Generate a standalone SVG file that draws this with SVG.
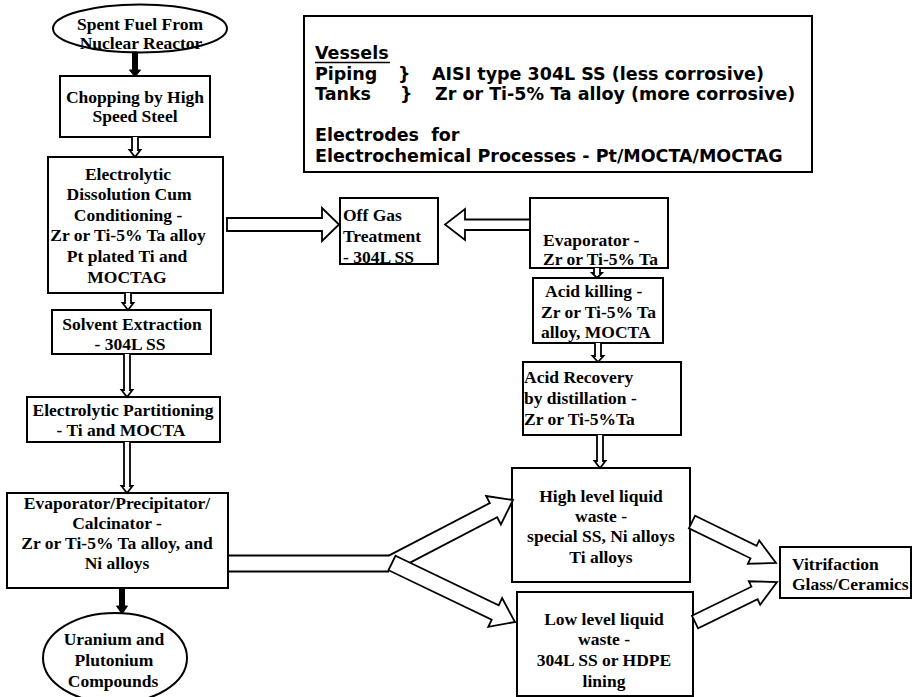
<svg xmlns="http://www.w3.org/2000/svg" width="912" height="697" viewBox="0 0 912 697">
<style>
.box{fill:#fff;stroke:#000;stroke-width:2}
.t{font-family:"Liberation Serif","Times New Roman",serif;font-weight:bold;font-size:17.5px;fill:#000}
.c{text-anchor:middle}
.s{font-family:"DejaVu Sans",Verdana,sans-serif;font-weight:bold;font-size:17.5px;fill:#000}
.ar{fill:#fff;stroke:#000;stroke-width:1.8;stroke-linejoin:miter}
.ln{fill:none;stroke:#000;stroke-width:1.8}
.blk{fill:#000;stroke:#000;stroke-width:1}
</style>
<rect width="912" height="697" fill="#fff"/>
<g id="spent-fuel">
<ellipse class="box" cx="140" cy="28.5" rx="87" ry="24"/>
<text class="t c" x="140" y="30">Spent Fuel From</text>
<text class="t c" x="141" y="49">Nuclear Reactor</text>
</g>
<g id="chopping">
<rect class="box" x="60" y="76" width="150" height="61"/>
<text class="t c" x="135" y="103">Chopping by High</text>
<text class="t c" x="135" y="122">Speed Steel</text>
</g>
<g id="electrolytic-dissolution">
<rect class="box" x="48" y="157" width="175" height="136"/>
<text class="t c" x="128" y="180">Electrolytic</text>
<text class="t c" x="129" y="200">Dissolution Cum</text>
<text class="t c" x="128" y="221">Conditioning -</text>
<text class="t c" x="128" y="241">Zr or Ti-5% Ta alloy</text>
<text class="t c" x="127" y="262">Pt plated Ti and</text>
<text class="t c" x="127" y="283">MOCTAG</text>
</g>
<g id="solvent-extraction">
<rect class="box" x="52" y="310" width="159" height="44"/>
<text class="t c" x="132" y="330">Solvent Extraction</text>
<text class="t c" x="130" y="350">- 304L SS</text>
</g>
<g id="electrolytic-partitioning">
<rect class="box" x="27" y="397" width="193" height="45"/>
<text class="t c" x="123" y="416">Electrolytic Partitioning</text>
<text class="t c" x="121" y="436">- Ti and MOCTA</text>
</g>
<g id="evaporator-calcinator">
<rect class="box" x="7" y="493" width="221" height="95"/>
<text class="t c" x="117" y="509">Evaporator/Precipitator/</text>
<text class="t c" x="117" y="529">Calcinator -</text>
<text class="t c" x="117" y="549">Zr or Ti-5% Ta alloy, and</text>
<text class="t c" x="117" y="569">Ni alloys</text>
</g>
<g id="uranium-plutonium">
<ellipse class="box" cx="115" cy="658" rx="72" ry="45"/>
<text class="t c" x="114" y="645">Uranium and</text>
<text class="t c" x="114" y="666">Plutonium</text>
<text class="t c" x="113" y="687">Compounds</text>
</g>
<g id="vessels-legend">
<rect class="box" x="304" y="16" width="508" height="156"/>
<text class="s" x="315" y="59">Vessels</text>
<line x1="315" y1="62.5" x2="390" y2="62.5" stroke="#000" stroke-width="1.6"/>
<text class="s" x="315" y="80">Piping</text>
<text class="s" x="398" y="80">}</text>
<text class="s" x="432" y="80">AISI type 304L SS (less corrosive)</text>
<text class="s" x="315" y="100">Tanks</text>
<text class="s" x="400" y="100">}</text>
<text class="s" x="435" y="100">Zr or Ti-5% Ta alloy (more corrosive)</text>
<text class="s" x="315" y="141" xml:space="preserve">Electrodes  for</text>
<text class="s" x="315" y="162">Electrochemical Processes - Pt/MOCTA/MOCTAG</text>
</g>
<g id="off-gas">
<rect class="box" x="340" y="198" width="98" height="66"/>
<text class="t" x="343" y="221">Off Gas</text>
<text class="t" x="343" y="242">Treatment</text>
<text class="t" x="343" y="263">- 304L SS</text>
</g>
<g id="evaporator">
<rect class="box" x="530" y="198" width="138" height="70"/>
<text class="t" x="543" y="246">Evaporator -</text>
<text class="t" x="543" y="265">Zr or Ti-5% Ta</text>
</g>
<g id="acid-killing">
<rect class="box" x="533" y="278" width="130" height="65"/>
<text class="t" x="545" y="297">Acid killing -</text>
<text class="t" x="541" y="318">Zr or Ti-5% Ta</text>
<text class="t" x="541" y="338">alloy, MOCTA</text>
</g>
<g id="acid-recovery">
<rect class="box" x="523" y="362" width="158" height="73"/>
<text class="t" x="524" y="383">Acid Recovery</text>
<text class="t" x="524" y="404">by distillation -</text>
<text class="t" x="524" y="425">Zr or Ti-5%Ta</text>
</g>
<g id="high-level-waste">
<rect class="box" x="512" y="468" width="178" height="114"/>
<text class="t c" x="601" y="502">High level liquid</text>
<text class="t c" x="601" y="522">waste -</text>
<text class="t c" x="601" y="542">special SS, Ni alloys</text>
<text class="t c" x="601" y="563">Ti alloys</text>
</g>
<g id="low-level-waste">
<rect class="box" x="517" y="592" width="176" height="104"/>
<text class="t c" x="604" y="625">Low level liquid</text>
<text class="t c" x="604" y="645">waste -</text>
<text class="t c" x="604" y="666">304L SS or HDPE</text>
<text class="t c" x="604" y="687">lining</text>
</g>
<g id="vitrifaction">
<rect class="box" x="780" y="547" width="131" height="51"/>
<text class="t" x="792" y="570">Vitrifaction</text>
<text class="t" x="792" y="590">Glass/Ceramics</text>
</g>
<g id="connectors">
<polygon class="blk" points="132.5,52 137.5,52 137.5,70 140.5,70 135,77 129.5,70 132.5,70"/>
<polygon class="blk" points="119.5,588 124.5,588 124.5,606 127.5,606 122,614 116.5,606 119.5,606"/>
<path class="ar" d="M132,137 V150 H129.5 L135,157 L140.5,150 H138 V137"/>
<path class="ar" d="M125,293 V303 H122.5 L128,310 L133.5,303 H131 V293"/>
<path class="ar" d="M124,354 V390 H121.5 L127,397 L132.5,390 H130 V354"/>
<path class="ar" d="M124,442 V486 H121.5 L127,493 L132.5,486 H130 V442"/>
<path class="ar" d="M594,268 V273 H592 L597,278 L602,273 H600 V268"/>
<path class="ar" d="M595,343 V356 H592.5 L598,362 L603.5,356 H601 V343"/>
<path class="ar" d="M597,435 V461 H594.5 L600,468 L605.5,461 H603 V435"/>
<path class="ar" d="M227,218 H322 V208 L339,224.5 L322,241 V231 H227 Z"/>
<path class="ar" d="M530,219.5 H465 V209 L445,224.5 L465,240 V230 H530 Z"/>
<path class="ar" d="M395.7,570.1 L497.2,517.3 L500.9,524.4 L513,500 L486.1,496 L489.8,503.1 L388.3,555.9"/>
<path class="ln" d="M228,555.5 H389 M228,571.5 H389"/>
<path class="ar" d="M395.5,555.8 L498.7,605.3 L502.1,598.1 L515,622 L488.3,626.9 L491.7,619.7 L388.5,570.2 Z"/>
<path class="ar" d="M695.1,515.7 L756.6,545.8 L759.2,540.4 L776,563 L747.9,563.7 L750.5,558.3 L688.9,528.3 Z"/>
<path class="ar" d="M691.9,615.7 L751.4,586.7 L748.8,581.3 L777,582 L760.2,604.7 L757.6,599.3 L698.1,628.3 Z"/>
</g>
</svg>
